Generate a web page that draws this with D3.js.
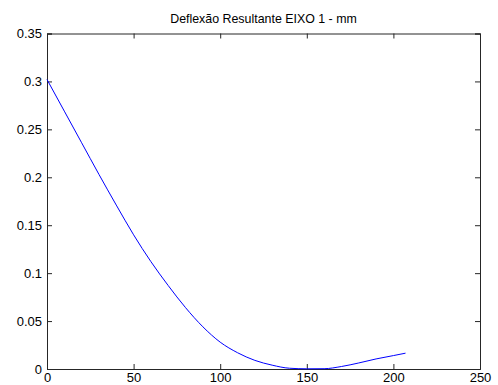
<!DOCTYPE html>
<html>
<head>
<meta charset="utf-8">
<script src="https://cdn.jsdelivr.net/npm/d3@7"></script>
<style>
  html, body { margin: 0; padding: 0; background: #fff; }
  svg { display: block; }
  text { font-family: "Liberation Sans", Arial, sans-serif; fill: #000; }
</style>
</head>
<body>
<svg id="chart" width="498" height="385"></svg>
<script>
// Shaft deflection along axis 1 (position, resultant deflection in mm)
const positions = [0, 10, 20, 30, 40, 50, 60, 70, 80, 90, 100, 110, 120, 130, 140, 150, 160, 170, 180, 190, 200, 207];
const deflection = [0.302, 0.269, 0.236, 0.203, 0.171, 0.140, 0.112, 0.087, 0.064, 0.044, 0.028, 0.017, 0.009, 0.004, 0.0008, 0.0002, 0.0003, 0.0026, 0.0063, 0.0105, 0.014, 0.0165];
const xTicks = [0, 50, 100, 150, 200, 250];
const yTicks = [0, 0.05, 0.1, 0.15, 0.2, 0.25, 0.3, 0.35];
const titleText = "Deflexão Resultante EIXO 1 - mm";

const svg = d3.select("#chart");
const margin = { left: 47, right: 18, top: 33.5, bottom: 16 };
const W = 498, H = 385;
const x = d3.scaleLinear().domain([0, 250]).range([margin.left, W - margin.right]);
const y = d3.scaleLinear().domain([0, 0.35]).range([H - margin.bottom, margin.top]);

const axisColor = "#262626";
const fmtY = d => d === 0 ? "0" : String(+d.toFixed(2));

// Bottom axis with inward ticks
const gx = svg.append("g").attr("transform", `translate(0,${y(0)})`)
  .call(d3.axisBottom(x).tickValues(xTicks).tickSize(-5).tickPadding(3.5).tickFormat(d3.format("d")));
// Top axis (ticks only)
const gxt = svg.append("g").attr("transform", `translate(0,${y(0.35)})`)
  .call(d3.axisTop(x).tickValues(xTicks).tickSize(-5).tickFormat(""));
// Left axis
const gy = svg.append("g").attr("transform", `translate(${x(0)},0)`)
  .call(d3.axisLeft(y).tickValues(yTicks).tickSize(-5).tickPadding(5).tickFormat(fmtY));
// Right axis (ticks only)
const gyr = svg.append("g").attr("transform", `translate(${x(250)},0)`)
  .call(d3.axisRight(y).tickValues(yTicks).tickSize(-5).tickFormat(""));

[gx, gxt, gy, gyr].forEach(g => {
  g.select(".domain").attr("stroke", axisColor).attr("stroke-width", 1);
  g.selectAll(".tick line").attr("stroke", axisColor);
  g.selectAll(".tick text").attr("font-size", 13).attr("fill", "#000")
    .attr("font-family", "'Liberation Sans', Arial, sans-serif");
});

// Data line
const line = d3.line().x((d, i) => x(positions[i])).y(d => y(d)).curve(d3.curveMonotoneX);
svg.append("path")
  .datum(deflection)
  .attr("d", line)
  .attr("fill", "none")
  .attr("stroke", "#0000ff")
  .attr("stroke-width", 1);

// Title
svg.append("text")
  .attr("x", (x(0) + x(250)) / 2)
  .attr("y", 23)
  .attr("text-anchor", "middle")
  .attr("font-size", 12.4)
  .text(titleText);
</script>
</body>
</html>
